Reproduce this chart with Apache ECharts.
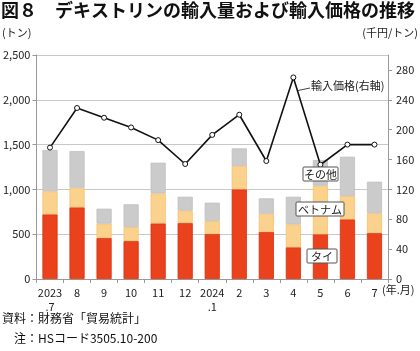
<!DOCTYPE html>
<html>
<head>
<meta charset="utf-8">
<script src="https://cdn.jsdelivr.net/npm/echarts@6/dist/echarts.min.js"></script>
<style>
  html, body { margin: 0; padding: 0; background: #fff; }
  #main { width: 420px; height: 351px; }
</style>
</head>
<body>
<div id="main"></div>
<script>
// 月（年.月）
const months = ["2023\n.7", "8", "9", "10", "11", "12", "2024\n.1", "2", "3", "4", "5", "6", "7"];
// 輸入量（トン）
const thai = [722, 800, 458, 424, 621, 625, 502, 1001, 525, 354, 499, 666, 513];
const vietnam = [257, 219, 159, 156, 335, 137, 145, 260, 204, 256, 542, 260, 220];
const others = [461, 409, 168, 254, 342, 156, 205, 197, 171, 308, 287, 439, 353];
// 輸入価格（千円/トン）
const price = [176, 229, 216, 203, 186, 154, 193, 220, 158, 270, 153, 180, 180];

const FONT = "'Noto Sans CJK JP', 'Noto Sans', sans-serif";

const myChart = echarts.init(document.getElementById("main"));

// 系列名の枠付きラベル
const boxText = (text, x, y, w) => [
  {
    type: "rect",
    shape: { x: x, y: y, width: w, height: 14, r: 1 },
    style: { fill: "#fff", stroke: "#555", lineWidth: 1 },
    z: 100
  },
  {
    type: "text",
    style: {
      x: x + w / 2,
      y: y + 7.5,
      text: text,
      fill: "#222",
      font: "11px " + FONT,
      align: "center",
      verticalAlign: "middle"
    },
    z: 101
  }
];

const option = {
  animation: false,
  textStyle: { fontFamily: FONT },
  grid: { left: 36, right: 32, top: 55, bottom: 72 },
  xAxis: {
    type: "category",
    data: months,
    axisLine: { lineStyle: { color: "#999" } },
    axisTick: { show: true, length: 4, lineStyle: { color: "#999" } },
    axisLabel: { color: "#222", fontSize: 11, lineHeight: 14, margin: 7, interval: 0 }
  },
  yAxis: [
    {
      type: "value",
      min: 0,
      max: 2500,
      interval: 500,
      axisLine: { show: true, lineStyle: { color: "#999" } },
      axisTick: { show: true, length: 4, lineStyle: { color: "#999" } },
      axisLabel: {
        color: "#222",
        fontSize: 11,
        margin: 6,
        formatter: v => v.toLocaleString("en-US")
      },
      splitLine: { show: true, lineStyle: { color: "#c8c8c8", width: 1 } }
    },
    {
      type: "value",
      min: 0,
      max: 300,
      interval: 40,
      position: "right",
      axisLine: { show: true, lineStyle: { color: "#999" } },
      axisTick: { show: true, length: 4, lineStyle: { color: "#999" } },
      axisLabel: {
        color: "#222",
        fontSize: 11,
        margin: 8,
        showMaxLabel: false,
        formatter: v => (v > 280 ? "" : String(v))
      },
      splitLine: { show: false }
    }
  ],
  series: [
    {
      name: "タイ",
      type: "bar",
      stack: "qty",
      data: thai,
      barWidth: "56%",
      itemStyle: { color: "#e9421d", borderColor: "#d8300e", borderWidth: 0.8 }
    },
    {
      name: "ベトナム",
      type: "bar",
      stack: "qty",
      data: vietnam,
      itemStyle: { color: "#fbd18e", borderColor: "#f7c070", borderWidth: 0.8 }
    },
    {
      name: "その他",
      type: "bar",
      stack: "qty",
      data: others,
      itemStyle: { color: "#cbcbcb", borderColor: "#c0c0c0", borderWidth: 0.8 }
    },
    {
      name: "輸入価格",
      type: "line",
      yAxisIndex: 1,
      data: price,
      symbol: "circle",
      symbolSize: 5,
      lineStyle: { color: "#111", width: 1.6 },
      itemStyle: { color: "#fff", borderColor: "#111", borderWidth: 1 },
      z: 5
    }
  ],
  graphic: [
    {
      type: "text",
      left: 1,
      top: 1,
      style: {
        text: "図８　デキストリンの輸入量および輸入価格の推移",
        fill: "#111",
        font: "bold 18px " + FONT
      }
    },
    {
      type: "text",
      left: 2,
      top: 27,
      style: { text: "(トン)", fill: "#222", font: "11px " + FONT }
    },
    {
      type: "text",
      right: 2,
      top: 27,
      style: { text: "(千円/トン)", fill: "#222", font: "11px " + FONT }
    },
    {
      type: "text",
      left: 382,
      top: 284,
      style: { text: "(年.月)", fill: "#222", font: "11px " + FONT }
    },
    {
      type: "line",
      shape: { x1: 298, y1: 90.5, x2: 310, y2: 88 },
      style: { stroke: "#444", lineWidth: 1 }
    },
    {
      type: "text",
      left: 311,
      top: 80,
      style: { text: "輸入価格(右軸)", fill: "#222", font: "11px " + FONT }
    },
    ...boxText("その他", 303, 167, 35),
    ...boxText("ベトナム", 296, 202, 48),
    ...boxText("タイ", 307, 249, 30),
    {
      type: "text",
      left: 2,
      top: 312,
      style: { text: "資料：財務省「貿易統計」", fill: "#111", font: "12px " + FONT }
    },
    {
      type: "text",
      left: 14,
      top: 332,
      style: { text: "注：HSコード3505.10-200", fill: "#111", font: "12px " + FONT }
    }
  ]
};

myChart.setOption(option);
</script>
</body>
</html>
